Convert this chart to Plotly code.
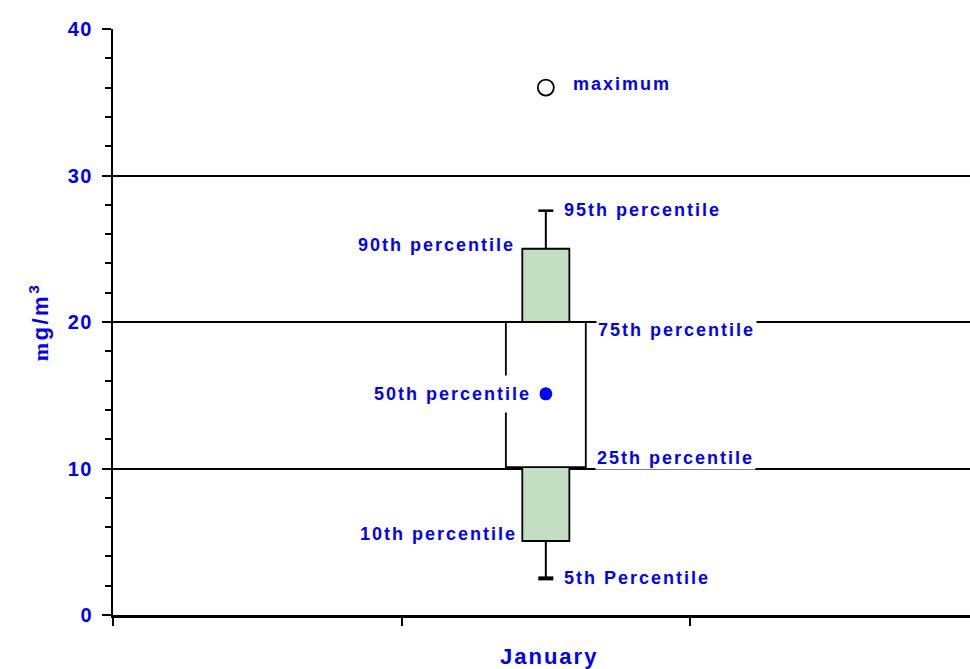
import plotly.graph_objects as go

# Monthly concentration distribution (percentiles), in µg/m³
month = ["January"]
month_pos = [1.5]
p5 = [2.5]
p10 = [5.05]
p25 = [10.1]
p50 = [15.1]
p75 = [20.0]
p90 = [25.0]
p95 = [27.6]
pmax = [36.0]

y_ticks = [0, 10, 20, 30, 40]
x_ticks = [0, 1, 2]

BLUE = "#0000ff"
GREEN = "#c2dfc2"
FONT = "Liberation Sans, Arial, sans-serif"


def spaced(text, ls):
    return f'<span style="letter-spacing:{ls}px">{text}</span>'


x = month_pos[0]
inner_w = 0.163
outer_w = 0.277
cap_half = 0.026

fig = go.Figure()

# 10th-90th outer bands (green) and 25th-75th central box (white)
fig.add_trace(go.Bar(x=month_pos, y=[p90[0] - p75[0]], base=p75, width=inner_w,
                     marker=dict(color=GREEN, line=dict(color="black", width=1.8))))
fig.add_trace(go.Bar(x=month_pos, y=[p25[0] - p10[0]], base=p10, width=inner_w,
                     marker=dict(color=GREEN, line=dict(color="black", width=1.8))))
fig.add_trace(go.Bar(x=month_pos, y=[p75[0] - p25[0]], base=p25, width=outer_w,
                     marker=dict(color="white", line=dict(color="black", width=1.8))))

# whiskers to 5th / 95th percentiles
fig.add_trace(go.Scatter(x=[x, x], y=[p90[0], p95[0]], mode="lines",
                         line=dict(color="black", width=2)))
fig.add_trace(go.Scatter(x=[x - cap_half, x + cap_half], y=[p95[0], p95[0]], mode="lines",
                         line=dict(color="black", width=2.5)))
fig.add_trace(go.Scatter(x=[x, x], y=[p10[0], p5[0]], mode="lines",
                         line=dict(color="black", width=2)))
fig.add_trace(go.Scatter(x=[x - cap_half, x + cap_half], y=[p5[0], p5[0]], mode="lines",
                         line=dict(color="black", width=4)))

# median and maximum
fig.add_trace(go.Scatter(x=month_pos, y=p50, mode="markers",
                         marker=dict(color=BLUE, size=13, symbol="circle")))
fig.add_trace(go.Scatter(x=month_pos, y=pmax, mode="markers",
                         marker=dict(color="black", size=16, symbol="circle-open",
                                     line=dict(width=1.8))))

label_font = dict(family=FONT, size=18, color=BLUE, weight="bold")
LS = 2

# text, value, anchor, x offset, y offset, padding
labels = [
    ("maximum", pmax[0], "left", 25, 4, 1),
    ("95th percentile", p95[0], "left", 16, 1, 1),
    ("90th percentile", p90[0], "right", -29, 4, 1),
    ("75th percentile", p75[0], "left", 50, -8, 1),
    ("50th percentile", p50[0], "right", -6, 0, 8),
    ("25th percentile", p25[0], "left", 49, 9, 1),
    ("10th percentile", p10[0], "right", -27, 7, 1),
    ("5th Percentile", p5[0], "left", 16, 0, 1),
]
for text, yv, anchor, xs, ys, pad in labels:
    fig.add_annotation(x=x, y=yv, xref="x", yref="y", text=spaced(text, LS),
                       showarrow=False, xanchor=anchor, yanchor="middle",
                       xshift=xs, yshift=ys, font=label_font,
                       bgcolor="white", borderpad=pad)

# category label beneath the axis
fig.add_annotation(x=x, y=-0.07, xref="x", yref="paper", text=spaced(month[0], 2),
                   showarrow=False, xanchor="center", yanchor="middle", xshift=3,
                   font=dict(family=FONT, size=22, color=BLUE, weight="bold"))

fig.update_layout(
    width=970, height=669,
    margin=dict(l=113, r=0, t=29, b=54),
    paper_bgcolor="white", plot_bgcolor="white",
    showlegend=False, barmode="overlay",
    font=dict(family=FONT, color=BLUE),
)

fig.update_xaxes(
    range=[0, 2.97], tickvals=x_ticks, showticklabels=False,
    ticks="outside", ticklen=8, tickwidth=2, tickcolor="black",
    showline=True, linecolor="black", linewidth=3,
    showgrid=False, zeroline=False,
)

fig.update_yaxes(
    range=[0, 40], tickvals=y_ticks,
    ticktext=[spaced(str(v), 1.5) for v in y_ticks],
    tickfont=dict(family=FONT, size=20, color=BLUE, weight="bold"),
    ticks="outside", ticklen=9, tickwidth=2, tickcolor="black",
    ticklabelstandoff=5,
    minor=dict(dtick=2, ticks="outside", ticklen=6, tickwidth=1.5,
               tickcolor="black", showgrid=False),
    showline=True, linecolor="black", linewidth=2,
    showgrid=True, gridcolor="black", gridwidth=1.8, zeroline=False,
    title=dict(
        text=spaced('<span style="font-family:Liberation Serif, Times New Roman, serif">m</span>g/m<sup>3</sup>', 2.5),
        font=dict(family=FONT, size=22, color=BLUE, weight="bold"),
        standoff=13,
    ),
)

fig.write_html("out.html")
